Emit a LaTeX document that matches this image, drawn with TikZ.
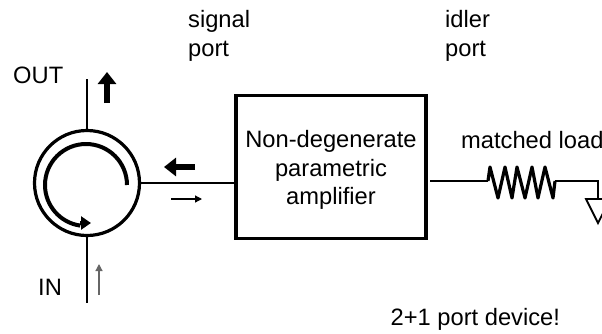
\documentclass[tikz,border=0pt]{standalone}
\usepackage{xcolor}
\usepackage{fontspec}
\setmainfont{Liberation Sans}
\usetikzlibrary{arrows.meta}
\tikzset{
    label text/.style={inner sep=0pt, anchor=base west, font=\fontsize{23.7}{29}\selectfont},
    amp text/.style={inner sep=0pt, anchor=base, font=\fontsize{23.7}{29}\selectfont},
    wire/.style={line width=1.8pt},
    heavy/.style={line width=3.2pt},
    fat arrow/.style={line width=6pt, -{Triangle[length=12pt, width=18pt]}},
    thin arrow/.style={line width=1.2pt, -{Triangle[length=7pt, width=7pt]}},
}

\begin{document}
\begin{tikzpicture}[x=1pt,y=-1pt]
    \useasboundingbox (0,0) rectangle (602,333);
    \clip (0,0) rectangle (602,333);
    % circulator
    \node[draw, heavy, circle, minimum size=105pt, inner sep=0pt] (circ) at (87,183) {};
    \coordinate (out) at (87,79);
    \coordinate (in) at (87,303);
    \draw[wire] (circ.north) -- (out);
    \draw[wire] (circ.south) -- (in);
    \draw[line width=4pt] (127,185) arc (0:-262:41);
    \draw[line width=4pt, -{Triangle[length=10pt, width=13pt]}] (80,223) -- (91,223);
    % amplifier
    \node[draw, heavy, minimum width=190pt, minimum height=143pt, inner sep=0pt] (amp) at (331,167) {};
    \node[amp text] (ampt) at (331,147) {Non-degenerate};
    \node[amp text] (ampm) at (331,176) {parametric};
    \node[amp text] (ampb) at (331,204) {amplifier};
    \draw[wire] (circ.east) -- (amp.west |- circ.east);
    % load
    \coordinate (idler) at (430,181);
    \coordinate (rin) at (488,181);
    \coordinate (rout) at (555,181);
    \coordinate (gnd) at (598,199);
    \draw[wire] (idler) -- (rin);
    \draw[heavy, line join=round] (rin) -- (490,167) -- (498,198) -- (505,167) -- (512,198) -- (517,167)
        -- (525,198) -- (532,167) -- (538,198) -- (545,167) -- (553,198) -- (rout);
    \draw[wire] (rout) -- (gnd |- rout) -- (gnd);
    \draw[wire] (586,199) -- (610,199) -- (598,223) -- cycle;
    % signal arrows
    \coordinate (a1) at (107,103);
    \coordinate (a2) at (107,72);
    \coordinate (b1) at (195,167);
    \coordinate (b2) at (164,167);
    \coordinate (c1) at (171,199);
    \coordinate (c2) at (202,199);
    \coordinate (d1) at (99,295);
    \coordinate (d2) at (99,264);
    \draw[fat arrow] (a1) -- (a2);
    \draw[fat arrow] (b1) -- (b2);
    \draw[thin arrow] (c1) -- (c2);
    \draw[thin arrow, black!60] (d1) -- (d2);
    % labels
    \node[label text] (outl) at (13,83) {OUT};
    \node[label text] (inl) at (38,295) {IN};
    \node[label text] (sigl) at (188,27) {signal};
    \node[label text] (sigp) at (188,56) {port};
    \node[label text] (idll) at (445,27) {idler};
    \node[label text] (idlp) at (445,56) {port};
    \node[label text] (load) at (461,148) {matched load};
    \node[label text] (ports) at (390.5,325) {2+1 port device!};
\end{tikzpicture}
\end{document}
